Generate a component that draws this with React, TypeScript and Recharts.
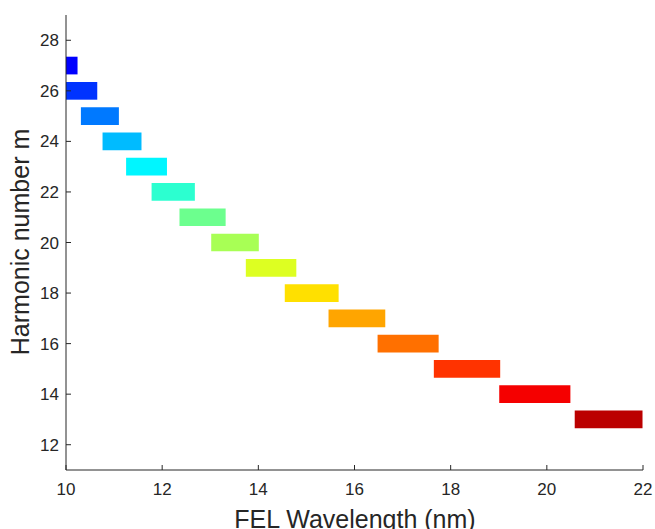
import React from "react";
import {
  ComposedChart,
  XAxis,
  YAxis,
  ReferenceArea,
  Label,
} from "recharts";

// harmonic number m and the FEL wavelength range covered at each harmonic (nm)
const harmonics = [27, 26, 25, 24, 23, 22, 21, 20, 19, 18, 17, 16, 15, 14, 13];
const lambdaMin = [10.0, 10.0, 10.31, 10.76, 11.25, 11.78, 12.36, 13.02, 13.74, 14.55, 15.46, 16.48, 17.65, 19.01, 20.58];
const lambdaMax = [10.24, 10.65, 11.1, 11.57, 12.1, 12.68, 13.32, 14.01, 14.79, 15.67, 16.64, 17.75, 19.03, 20.49, 21.99];
const bandColors = [
  "#0000ff", "#0033ff", "#0079ff", "#00bbff", "#00f6ff",
  "#2cffd0", "#6cff8e", "#a8ff55", "#ddff22", "#ffe000",
  "#ffa500", "#ff7000", "#ff3300", "#f50000", "#bb0000",
];
const xTicks = [10, 12, 14, 16, 18, 20, 22];
const yTicks = [12, 14, 16, 18, 20, 22, 24, 26, 28];

const halfHeight = 0.35;
const ink = "#262626";
const font = "'Liberation Sans', Arial, sans-serif";

export default function App() {
  return (
    <div style={{ position: "absolute", left: 0, top: 0, background: "#fff" }}>
      <ComposedChart
        width={655}
        height={529}
        margin={{ top: 15, right: 12, bottom: 0, left: 0 }}
      >
        <XAxis
          type="number"
          dataKey="x"
          domain={[10, 22]}
          ticks={xTicks}
          allowDataOverflow
          height={59}
          tickSize={-5}
          tickMargin={18}
          stroke={ink}
          tick={{ fill: ink, fontSize: 17, fontFamily: font }}
        >
          <Label
            content={() => (
              <text
                x={355}
                y={528}
                textAnchor="middle"
                fill={ink}
                fontSize={25}
                fontFamily={font}
              >
                FEL Wavelength (nm)
              </text>
            )}
          />
        </XAxis>
        <YAxis
          type="number"
          domain={[11, 29]}
          ticks={yTicks}
          allowDataOverflow
          width={66}
          tickSize={-5}
          tickMargin={12}
          stroke={ink}
          tick={{ fill: ink, fontSize: 17, fontFamily: font }}
        >
          <Label
            content={() => (
              <text
                x={0}
                y={0}
                transform="translate(29 242) rotate(-90)"
                textAnchor="middle"
                fill={ink}
                fontSize={25}
                fontFamily={font}
              >
                Harmonic number m
              </text>
            )}
          />
        </YAxis>
        {harmonics.map((m, i) => (
          <ReferenceArea
            key={m}
            x1={lambdaMin[i]}
            x2={lambdaMax[i]}
            y1={m - halfHeight}
            y2={m + halfHeight}
            fill={bandColors[i]}
            fillOpacity={1}
            stroke="none"
            ifOverflow="hidden"
          />
        ))}
      </ComposedChart>
    </div>
  );
}
